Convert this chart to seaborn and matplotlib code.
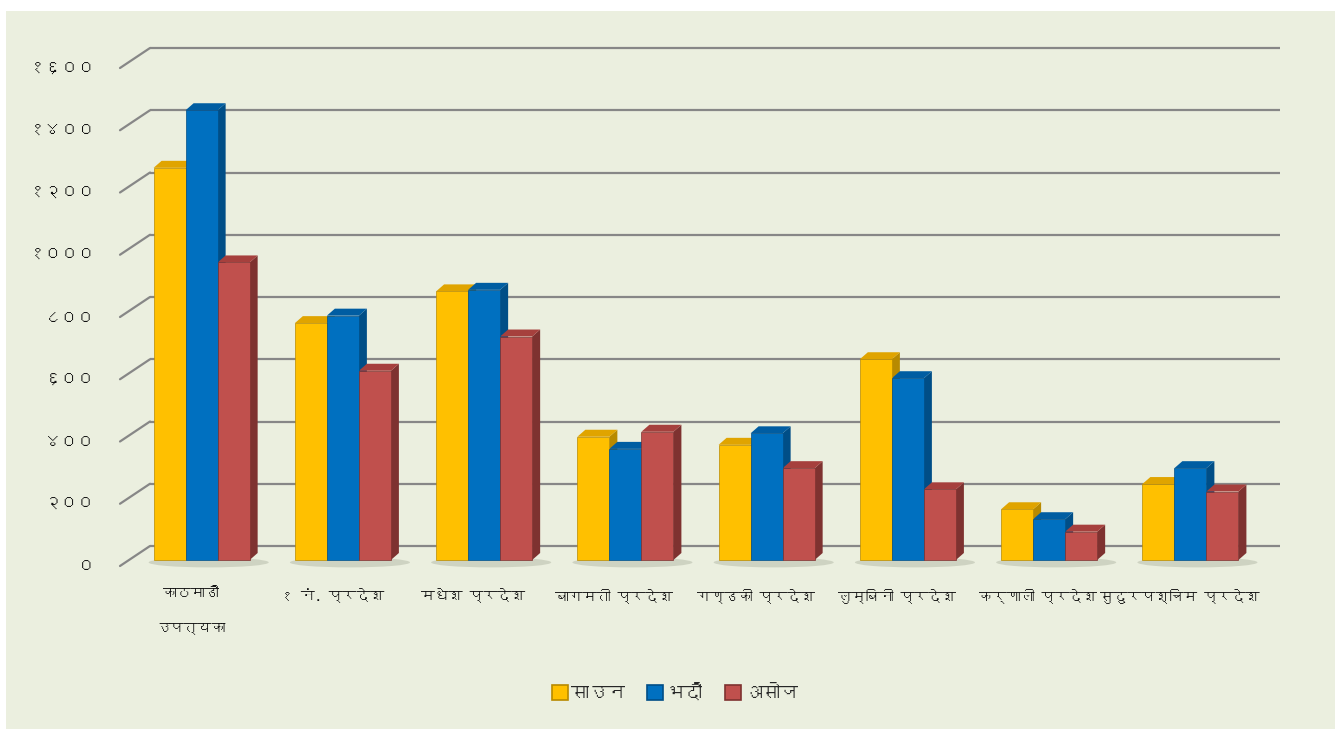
import numpy as np
import pandas as pd
import matplotlib
matplotlib.use("Agg")
import matplotlib.pyplot as plt
import seaborn as sns
from matplotlib import font_manager
from matplotlib.ft2font import FT2Font
from matplotlib.patches import Polygon, Rectangle, Ellipse

# data
categories = ["काठमाडौ\nउपत्यका", "१ नं. प्रदेश", "मधेश प्रदेश", "बागमती प्रदेश",
              "गण्डकी प्रदेश", "लुम्बिनी प्रदेश", "कर्णाली प्रदेश", "सुदुरपश्चिम प्रदेश"]
months = ["साउन", "भदौ", "असोज"]
saun = [1260, 761, 863, 396, 370, 645, 163, 244]
bhadau = [1445, 785, 868, 357, 407, 584, 131, 295]
asoj = [956, 608, 718, 412, 295, 227, 91, 220]
yticks = [0, 200, 400, 600, 800, 1000, 1200, 1400, 1600]
ytick_labels = ["०", "२००", "४००", "६००", "८००", "१०००", "१२००", "१४००", "१६००"]

front = ["#FFC000", "#0070C0", "#C0504D"]
side = ["#B88A00", "#004E87", "#7E3230"]
top = ["#E0A400", "#005DA2", "#A6403D"]
bg = "#EBEFDF"


def find_font(ch):
    # pick any installed family that has the glyph
    for f in font_manager.fontManager.ttflist:
        try:
            if ord(ch) in FT2Font(f.fname).get_charmap():
                return f.name
        except Exception:
            pass
    return None


sns.set_theme(style="white")
deva = find_font("क")
fams = [deva, "DejaVu Sans"] if deva else ["DejaVu Sans"]
plt.rcParams["font.family"] = fams

df = pd.DataFrame({
    "region": np.repeat(categories, 3),
    "month": months * len(categories),
    "value": np.ravel(np.column_stack([saun, bhadau, asoj])),
})

fig = plt.figure(figsize=(13.4, 7.29), dpi=100)
fig.patch.set_facecolor("white")
fig.patches.append(Rectangle((6 / 1340, 0), 1329 / 1340, 718 / 729, transform=fig.transFigure,
                             facecolor=bg, edgecolor="none", zorder=-10))
ax = fig.add_axes([120 / 1340, 163 / 729, 1130 / 1340, 498 / 729])
ax.set_facecolor("none")

sns.barplot(data=df, x="region", y="value", hue="month", palette=front,
            width=0.68, gap=0, saturation=1, ax=ax, legend=False, zorder=3)
ax.set_xlim(-0.5, len(categories) - 0.5)
ax.set_ylim(0, 1600)

# pixel -> data unit factors
x_px = ax.transData.transform((1, 0))[0] - ax.transData.transform((0, 0))[0]
y_px = ax.transData.transform((0, 1))[1] - ax.transData.transform((0, 0))[1]
back_dx, back_dy = 30 / x_px, 20 / y_px
shift_x, shift_y = 11 / x_px, 6 / y_px
depth_dx, depth_dy = 8 / x_px, 7 / y_px

# back wall gridlines + diagonal floor connectors
x0, x1 = ax.get_xlim()
for v in yticks:
    ax.plot([x0 + back_dx, x1 + back_dx], [v + back_dy, v + back_dy], color="#878787",
            lw=1.6, clip_on=False, zorder=1, solid_capstyle="butt")
    ax.plot([x0, x0 + back_dx], [v, v + back_dy], color="#878787", lw=1.6,
            clip_on=False, zorder=1)

# soft floor shadows under each group
for i in range(len(categories)):
    ax.add_patch(Ellipse((i + shift_x + 0.05, shift_y * 0.6), 0.85, 10 / y_px,
                         facecolor="#9AA08C", alpha=0.35, edgecolor="none",
                         zorder=2, clip_on=False))

# turn the flat bars into 3D columns
for k, cont in enumerate(ax.containers):
    for bar in cont:
        x, w, h = bar.get_x() + shift_x, bar.get_width(), bar.get_height()
        bar.set_x(x)
        bar.set_y(shift_y)
        b, t = shift_y, shift_y + h
        ax.add_patch(Polygon([(x + w, b), (x + w + depth_dx, b + depth_dy),
                              (x + w + depth_dx, t + depth_dy), (x + w, t)],
                             closed=True, facecolor=side[k], edgecolor="none", zorder=2.9))
        ax.add_patch(Polygon([(x, t), (x + depth_dx, t + depth_dy),
                              (x + w + depth_dx, t + depth_dy), (x + w, t)],
                             closed=True, facecolor=top[k], edgecolor="none", zorder=2.9))
        bar.set_edgecolor(side[k])
        bar.set_linewidth(0.5)

ax.set_yticks(yticks)
ax.set_yticklabels(ytick_labels, fontsize=12, color="#111111")
ax.set_xticks(range(len(categories)))
ax.set_xticklabels(categories, fontsize=10, linespacing=3.2, va="top", color="#111111")
ax.tick_params(axis="y", length=0, pad=18)
ax.tick_params(axis="x", length=0, pad=16)
ax.set_xlabel("")
ax.set_ylabel("")
sns.despine(ax=ax, left=True, bottom=True)
ax.grid(False)

handles = [Rectangle((0, 0), 1, 1, facecolor=front[i], edgecolor=side[i], lw=1.2) for i in range(3)]
fig.legend(handles, months, loc="center", bbox_to_anchor=(675 / 1340, 1 - 692 / 729), ncol=3,
           frameon=False, fontsize=13, handlelength=0.9, handleheight=0.9, handletextpad=0.2,
           columnspacing=1.2)

fig.savefig("out.png", dpi=100, facecolor=fig.get_facecolor())
